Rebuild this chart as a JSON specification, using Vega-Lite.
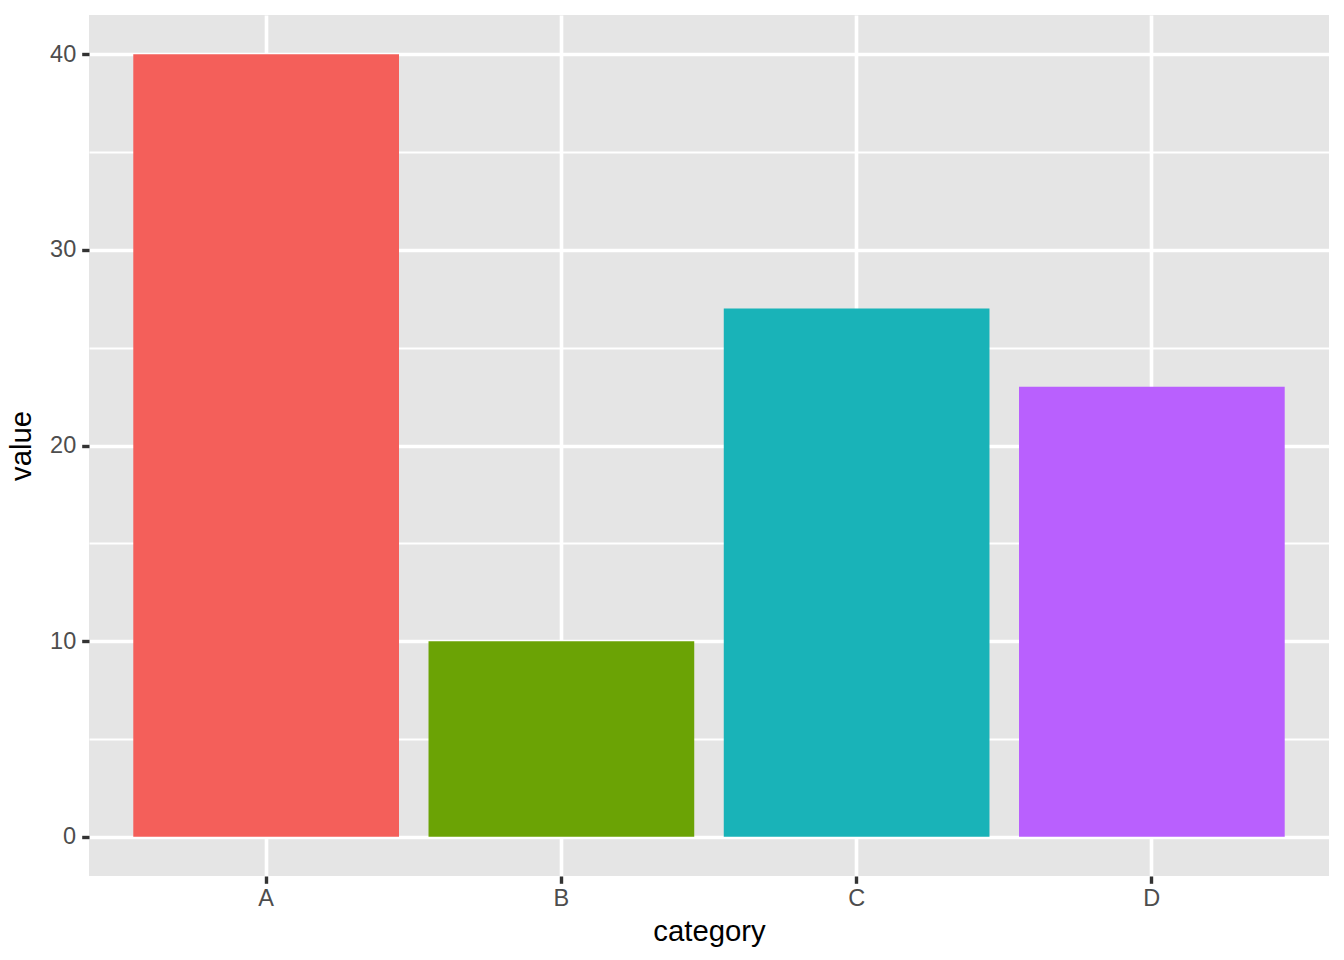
{
  "$schema": "https://vega.github.io/schema/vega-lite/v6.json",
  "autosize": {"type": "none"},
  "width": 1240,
  "height": 861,
  "padding": {"left": 89, "top": 15, "right": 15, "bottom": 84},
  "background": "white",
  "config": {
    "view": {"fill": "#E5E5E5", "stroke": null},
    "font": "Liberation Sans"
  },
  "data": {
    "values": [
      {"category": "A", "value": 40},
      {"category": "B", "value": 10},
      {"category": "C", "value": 27},
      {"category": "D", "value": 23}
    ]
  },
  "mark": {"type": "bar"},
  "encoding": {
    "x": {
      "field": "category",
      "type": "nominal",
      "scale": {"paddingInner": 0.1, "paddingOuter": 0.15},
      "axis": {
        "labelAngle": 0,
        "bandPosition": 0.5,
        "domain": false,
        "grid": true,
        "gridColor": "white",
        "gridWidth": 3.6,
        "tickColor": "#333333",
        "tickWidth": 3.4,
        "tickSize": 7.3,
        "labelColor": "#4D4D4D",
        "labelFontSize": 23.5,
        "labelFont": "Liberation Sans",
        "labelPadding": 3,
        "title": "category",
        "titleFont": "Liberation Sans",
        "titleFontSize": 29.3,
        "titleFontWeight": "normal",
        "titleColor": "black",
        "titlePadding": 8
      }
    },
    "y": {
      "field": "value",
      "type": "quantitative",
      "scale": {"domain": [-2, 42], "nice": false},
      "axis": {
        "values": [0, 5, 10, 15, 20, 25, 30, 35, 40],
        "labelExpr": "datum.value % 10 === 0 ? datum.label : ''",
        "domain": false,
        "grid": true,
        "gridColor": "white",
        "gridWidth": {"condition": {"test": "datum.value % 10 === 0", "value": 3.6}, "value": 1.8},
        "tickColor": "#333333",
        "tickOpacity": {"condition": {"test": "datum.value % 10 === 0", "value": 1}, "value": 0},
        "tickWidth": 3.4,
        "tickSize": 7.3,
        "labelColor": "#4D4D4D",
        "labelFontSize": 23.5,
        "labelFont": "Liberation Sans",
        "labelPadding": 6,
        "title": "value",
        "titleFont": "Liberation Sans",
        "titleFontSize": 29.3,
        "titleFontWeight": "normal",
        "titleColor": "black",
        "titlePadding": 13
      }
    },
    "y2": {"datum": 0},
    "color": {
      "field": "category",
      "type": "nominal",
      "scale": {"domain": ["A", "B", "C", "D"], "range": ["#F45F5A", "#6BA305", "#19B3B8", "#B960FE"]},
      "legend": null
    }
  }
}
